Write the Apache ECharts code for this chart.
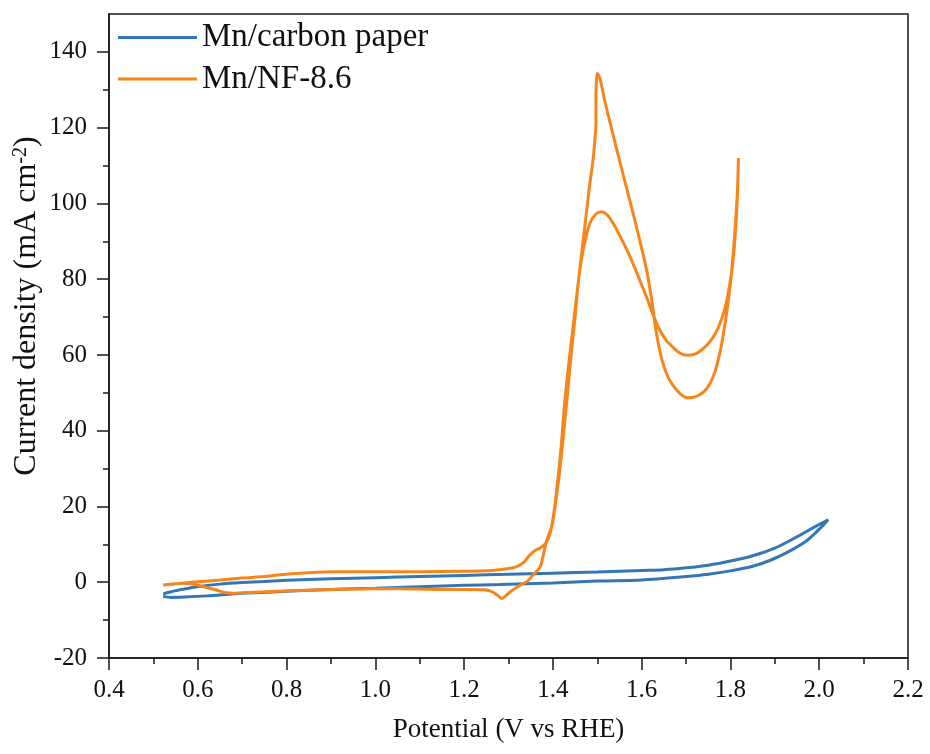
<!DOCTYPE html>
<html>
<head>
<meta charset="utf-8">
<script src="https://cdn.jsdelivr.net/npm/echarts@6/dist/echarts.min.js"></script>
<style>
  html, body { margin: 0; padding: 0; background: #fff; }
  #chart { width: 930px; height: 754px; }
</style>
</head>
<body>
<div id="chart"></div>
<script>
// Cyclic voltammograms: potential (V vs RHE) vs current density (mA cm^-2)

// Mn/carbon paper — positive-going sweep
const carbonPaperAnodic = [
  [0.522, -3.1], [0.54, -2.5], [0.57, -1.8], [0.60, -1.2], [0.65, -0.5],
  [0.70, -0.1], [0.80, 0.5], [0.90, 0.9], [1.00, 1.2], [1.10, 1.5],
  [1.20, 1.8], [1.30, 2.1], [1.40, 2.4], [1.50, 2.7], [1.60, 3.1],
  [1.65, 3.3], [1.70, 3.8], [1.75, 4.5], [1.80, 5.6], [1.85, 7.0],
  [1.90, 9.0], [1.95, 12.0], [1.99, 14.6], [2.02, 16.5]
];
// Mn/carbon paper — negative-going sweep
const carbonPaperCathodic = [
  [2.00, 14.0], [1.97, 10.8], [1.93, 8.0], [1.89, 5.8], [1.85, 4.2],
  [1.80, 3.0], [1.75, 2.1], [1.70, 1.5], [1.60, 0.6], [1.50, 0.3],
  [1.40, -0.2], [1.28, -0.6], [1.20, -0.8], [1.10, -1.2], [1.00, -1.6],
  [0.90, -1.9], [0.80, -2.4], [0.70, -2.9], [0.62, -3.6], [0.57, -3.9],
  [0.54, -4.0], [0.522, -3.8]
];

// Mn/NF-8.6 — positive-going sweep
const nfAnodic = [
  [0.522, -0.7], [0.56, -0.3], [0.60, 0.1], [0.65, 0.6], [0.70, 1.1],
  [0.75, 1.5], [0.78, 1.9], [0.82, 2.3], [0.86, 2.6], [0.90, 2.8],
  [1.00, 2.8], [1.10, 2.8], [1.20, 2.9], [1.25, 3.0], [1.28, 3.3],
  [1.30, 3.6], [1.32, 4.2], [1.335, 5.3], [1.348, 7.2], [1.36, 8.4],
  [1.372, 9.1], [1.385, 10.4], [1.395, 13.5], [1.403, 19], [1.411, 27],
  [1.418, 35], [1.427, 48], [1.439, 61], [1.450, 72], [1.461, 83],
  [1.472, 94], [1.483, 105], [1.490, 111], [1.494, 116], [1.497, 121],
  [1.497, 128], [1.498, 132], [1.500, 134.3], [1.506, 133], [1.517, 127],
  [1.535, 118.4], [1.553, 110], [1.574, 100.5], [1.592, 92], [1.611, 82.5],
  [1.622, 75], [1.633, 66], [1.645, 59], [1.660, 54], [1.679, 50.7],
  [1.695, 49.0], [1.709, 48.7], [1.728, 49.3], [1.746, 51.0], [1.762, 54.5],
  [1.777, 61], [1.790, 70], [1.800, 79], [1.807, 88], [1.812, 96],
  [1.816, 104], [1.818, 112]
];
// Mn/NF-8.6 — negative-going sweep
const nfCathodic = [
  [1.815, 100], [1.811, 92], [1.806, 85], [1.799, 79], [1.788, 72.5],
  [1.772, 67], [1.754, 63.5], [1.737, 61.5], [1.720, 60.2], [1.701, 59.9],
  [1.685, 60.6], [1.670, 62.1], [1.656, 63.8], [1.641, 66.5], [1.626, 70.5],
  [1.611, 75.3], [1.592, 80.8], [1.574, 85.9], [1.555, 90.5], [1.536, 94.7],
  [1.522, 97], [1.510, 97.8], [1.497, 97.2], [1.483, 94.7], [1.468, 87.6],
  [1.458, 80], [1.450, 70], [1.442, 61], [1.429, 45], [1.416, 30],
  [1.405, 20], [1.398, 15], [1.386, 11], [1.378, 7], [1.371, 4],
  [1.356, 2.0], [1.343, 0.3], [1.330, -0.5], [1.318, -1.4], [1.303, -2.6],
  [1.292, -3.8], [1.285, -4.3], [1.277, -3.6], [1.266, -2.7], [1.255, -2.2],
  [1.243, -2.0], [1.20, -1.9], [1.168, -1.9], [1.10, -1.8], [1.056, -1.7],
  [1.00, -1.7], [0.905, -1.9], [0.85, -2.1], [0.80, -2.3], [0.756, -2.5],
  [0.70, -2.8], [0.679, -2.9], [0.66, -2.7], [0.643, -2.1], [0.62, -1.4],
  [0.605, -0.9], [0.585, -0.4], [0.567, -0.3], [0.545, -0.5], [0.522, -0.7]
];

const seriesNames = ['Mn/carbon paper', 'Mn/NF-8.6'];
const xMajorTicks = [0.4, 0.6, 0.8, 1.0, 1.2, 1.4, 1.6, 1.8, 2.0, 2.2];
const yMajorTicks = [-20, 0, 20, 40, 60, 80, 100, 120, 140];
const yMinorTicks = [-10, 10, 30, 50, 70, 90, 110, 130];

const SERIF = "'Liberation Serif', 'Times New Roman', serif";
const INK = '#1a1a1a';
const BLUE = '#3576b4';
const ORANGE = '#f7851c';

const chart = echarts.init(document.getElementById('chart'), null, { renderer: 'canvas' });

chart.setOption({
  backgroundColor: '#ffffff',
  animation: false,
  grid: {
    left: 109, right: 22, top: 14, bottom: 96,
    show: true, borderColor: INK, borderWidth: 1.5,
    backgroundColor: 'transparent',
    outerBoundsMode: 'none'
  },
  legend: {
    orient: 'vertical',
    left: 113, top: 16,
    itemWidth: 79, itemHeight: 14, itemGap: 8.5,
    icon: 'path://M0,0 L79,0 L79,3 L0,3 Z',
    lineStyle: { width: 3 },
    textStyle: { fontFamily: SERIF, fontSize: 33, color: '#111' },
    data: seriesNames
  },
  xAxis: {
    type: 'value',
    min: 0.4, max: 2.2, interval: 0.2,
    name: 'Potential (V vs RHE)',
    nameLocation: 'middle', nameGap: 58,
    nameTextStyle: { fontFamily: SERIF, fontSize: 27, color: '#111' },
    axisLine: { show: true, onZero: false, lineStyle: { color: INK, width: 1.5 } },
    axisTick: { show: true, inside: false, length: 12, lineStyle: { color: INK, width: 1.5 } },
    minorTick: { show: true, splitNumber: 2, length: 6, lineStyle: { color: INK, width: 1.5 } },
    axisLabel: {
      fontFamily: SERIF, fontSize: 25, color: '#111', margin: 20,
      formatter: v => v.toFixed(1), customValues: xMajorTicks
    },
    splitLine: { show: false }
  },
  yAxis: [
    {
      type: 'value', min: -20, max: 150, position: 'left',
      axisLine: { show: true, onZero: false, lineStyle: { color: INK, width: 1.5 } },
      axisTick: { show: true, inside: false, length: 12, customValues: yMajorTicks,
                  lineStyle: { color: INK, width: 1.5 } },
      axisLabel: { fontFamily: SERIF, fontSize: 25, color: '#111', margin: 22,
                   customValues: yMajorTicks },
      splitLine: { show: false }
    },
    {
      type: 'value', min: -20, max: 150, position: 'left',
      axisLine: { show: false },
      axisTick: { show: true, inside: false, length: 6, customValues: yMinorTicks,
                  lineStyle: { color: INK, width: 1.5 } },
      axisLabel: { show: false },
      splitLine: { show: false }
    }
  ],
  graphic: [{
    type: 'text',
    x: 27, y: 306,
    rotation: Math.PI / 2,
    style: {
      text: '{a|Current density (mA cm}{s|-2}{a|)}',
      align: 'center', verticalAlign: 'middle',
      fill: '#111',
      rich: {
        a: { fontFamily: SERIF, fontSize: 32, fill: '#111' },
        s: { fontFamily: SERIF, fontSize: 20, fill: '#111', verticalAlign: 'top', padding: [0, 0, 12, 0] }
      }
    }
  }],
  series: [
    {
      name: seriesNames[0], type: 'line',
      data: carbonPaperAnodic.concat(carbonPaperCathodic),
      showSymbol: false, symbol: 'none', smooth: 0.3,
      lineStyle: { color: BLUE, width: 3 }, itemStyle: { color: BLUE },
      z: 2
    },
    {
      name: seriesNames[1], type: 'line',
      data: nfAnodic.concat(nfCathodic),
      showSymbol: false, symbol: 'none', smooth: 0.3,
      lineStyle: { color: ORANGE, width: 3 }, itemStyle: { color: ORANGE },
      z: 3
    }
  ]
});
</script>
</body>
</html>
